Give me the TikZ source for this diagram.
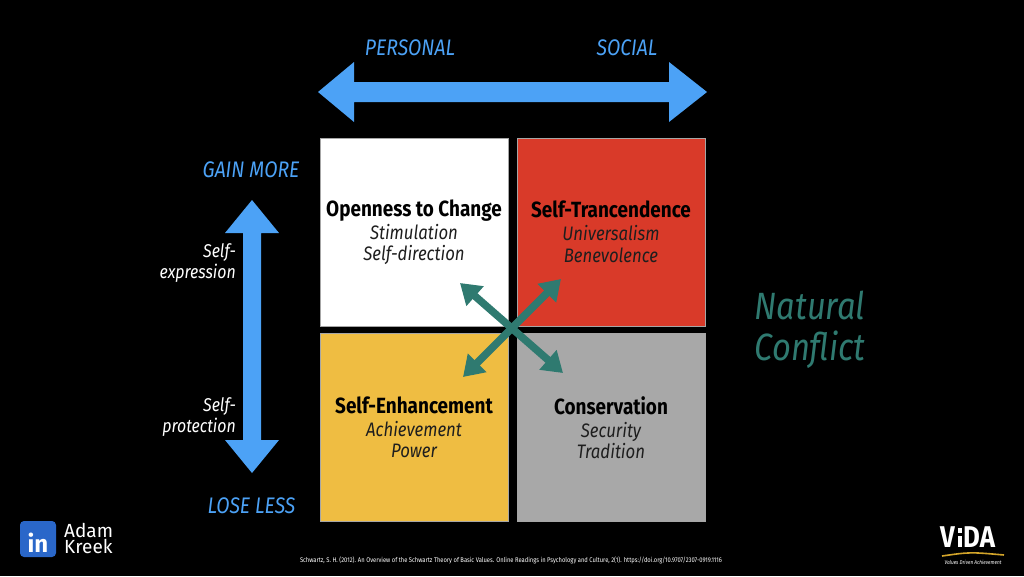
\documentclass[tikz,border=0pt]{standalone}
\usepackage{fontspec}
\setmainfont{Fira Sans}[FakeStretch=0.86]
\newfontfamily\plainfont{Fira Sans}
\usetikzlibrary{arrows.meta}
\definecolor{axisblue}{HTML}{4CA2F6}
\definecolor{quadred}{HTML}{D93A29}
\definecolor{quadyellow}{HTML}{EFBD42}
\definecolor{quadgray}{HTML}{A8A8A8}
\definecolor{conflictteal}{HTML}{2F7A70}
\definecolor{linkblue}{HTML}{2A67C9}
\definecolor{vidagold}{HTML}{D2A42A}
\definecolor{subtext}{HTML}{1E1E1E}
\tikzset{
  quad/.style={draw=black!35, line width=0.8pt, minimum width=188pt, minimum height=188pt, inner sep=0pt, align=center, text=subtext, font=\itshape\fontsize{19.5}{21.5}\selectfont},
  axislabel/.style={text=axisblue, font=\itshape\fontsize{22.5}{22.5}\selectfont, inner sep=0pt, anchor=base},
  sidelabel/.style={text=white, font=\itshape\fontsize{18.5}{21}\selectfont, inner sep=0pt, anchor=base east, align=right},
  conflictarrow/.style={draw=conflictteal, line width=7.5pt, {Triangle[length=20pt,width=25pt]}-{Triangle[length=20pt,width=25pt]}},
  namelabel/.style={text=white, font=\plainfont\fontsize{19}{16}\selectfont, inner sep=0pt, anchor=base west},
}
\newcommand{\quadhead}[1]{{\upshape\bfseries\color{black}\fontsize{22}{23}\selectfont #1}}
\begin{document}
\begin{tikzpicture}[x=1pt,y=-1pt]
\fill[black] (0,0) rectangle (1024,576);
\useasboundingbox (0,0) rectangle (1024,576);

% horizontal axis arrow
\fill[axisblue] (318,92) -- (354,62) -- (354,82) -- (669,82) -- (669,62) -- (707,92)
  -- (669,122) -- (669,102) -- (354,102) -- (354,122) -- cycle;
% vertical axis arrow
\fill[axisblue] (252,200) -- (279,233) -- (261,233) -- (261,440) -- (279,440) -- (252,473)
  -- (225,440) -- (243,440) -- (243,233) -- (225,233) -- cycle;

\node[axislabel] (personal) at (410,55) {PERSONAL};
\node[axislabel] (social) at (627,55) {SOCIAL};
\node[axislabel] (gain) at (251,177) {GAIN MORE};
\node[axislabel] (lose) at (251.5,513) {LOSE LESS};

\node[sidelabel] (expr) at (236,278) {Self-\\expression};
\node[sidelabel] (prot) at (236,432) {Self-\\protection};

% quadrants
\node[quad, fill=white] (oc) at (414,232)
  {\quadhead{Openness to Change}\\[1.5pt] Stimulation\\ Self-direction};
\node[quad, fill=quadred] (st) at (611,232)
  {\quadhead{Self-Trancendence}\\[1.5pt] Universalism\\ Benevolence};
\node[quad, fill=quadyellow] (se) at (414,427.5)
  {\quadhead{Self-Enhancement}\\[1.5pt] Achievement\\ Power};
\node[quad, fill=quadgray] (co) at (611,427.5)
  {\quadhead{Conservation}\\[1.5pt] Security\\ Tradition};

% conflict arrows
\coordinate (nwtip) at (460,283);
\coordinate (setip) at (563,373);
\coordinate (swtip) at (463,377);
\coordinate (netip) at (561,279);
\draw[conflictarrow] (nwtip) -- (setip);
\draw[conflictarrow] (swtip) -- (netip);

\node[text=conflictteal, font=\itshape\fontsize{38}{41}\selectfont, align=center, anchor=base, inner sep=0pt] (conflict) at (810,360) {Natural\\Conflict};

% LinkedIn logo
\node[fill=linkblue, rounded corners=4pt, minimum width=36pt, minimum height=36pt, inner sep=0pt] (lnbox) at (38,539) {};
\node[text=white, font=\plainfont\bfseries\fontsize{24}{24}\selectfont, inner sep=0pt, anchor=base] (lnin) at (38,552) {in};
\node[namelabel, text depth=0pt] (lnfirst) at (64,537) {Adam};
\node[namelabel, text height=13pt] (lnlast) at (64,553) {Kreek};

% citation
\node[text=white, inner sep=0pt, anchor=base] (cite) at (511,562)
  {\resizebox{422pt}{!}{\fontsize{7}{7}\selectfont Schwartz, S. H. (2012). An Overview of the Schwartz Theory of Basic Values. Online Readings in Psychology and Culture, 2(1). https://doi.org/10.9707/2307-0919.1116}};

% VIDA logo
\node[text=white, font=\bfseries\fontsize{30}{30}\selectfont, inner sep=0pt, anchor=base west] (vidav) at (940,547) {V};
\fill[white] (957.5,528) rectangle (961.5,533);
\fill[white] (957.5,536) rectangle (961.5,547);
\node[text=white, font=\bfseries\fontsize{30}{30}\selectfont, inner sep=0pt, anchor=base west] (vidada) at (963,547) {DA};
\draw[vidagold, line width=1.6pt] (942,556) .. controls (970,552) .. (1004,555);
\node[text=white, font=\itshape\fontsize{5.5}{6}\selectfont, inner sep=0pt, anchor=base] (vidatag) at (973,564) {Values Driven Achievement};
\end{tikzpicture}
\end{document}
